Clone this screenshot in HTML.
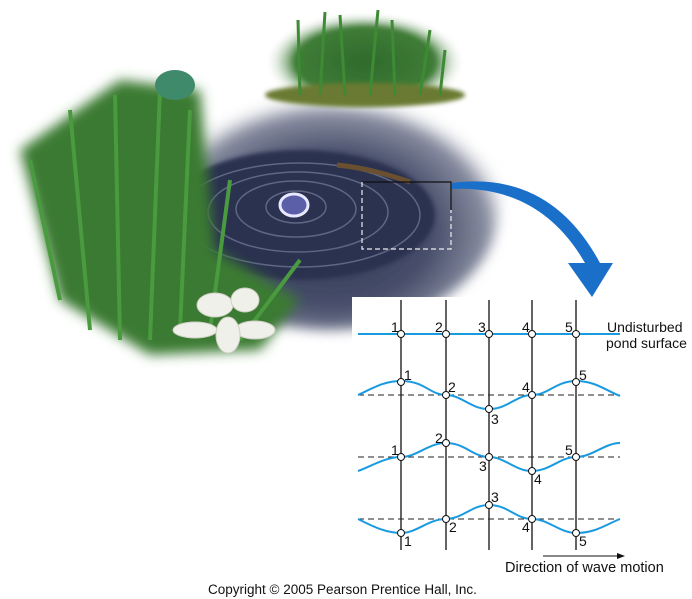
<!DOCTYPE html>
<html><head><meta charset="utf-8"><style>
html,body{margin:0;padding:0;background:#fff;width:692px;height:599px;overflow:hidden}
svg{display:block}
text{font-family:"Liberation Sans",Arial,sans-serif}
</style></head><body>
<svg width="692" height="599" viewBox="0 0 692 599" xmlns="http://www.w3.org/2000/svg">
<defs>
<radialGradient id="pond" cx="0.5" cy="0.6" r="0.55">
<stop offset="0" stop-color="#2c3350"/><stop offset="0.55" stop-color="#474e6a"/><stop offset="0.85" stop-color="#8a8fa2"/><stop offset="1" stop-color="#fff" stop-opacity="0"/>
</radialGradient>
<radialGradient id="grass" cx="0.5" cy="0.5" r="0.5">
<stop offset="0" stop-color="#2f6a2c"/><stop offset="0.7" stop-color="#3f7d37"/><stop offset="1" stop-color="#fff" stop-opacity="0"/>
</radialGradient>
<filter id="blur"><feGaussianBlur stdDeviation="6"/></filter>
<filter id="blur2"><feGaussianBlur stdDeviation="2"/></filter>
</defs>
<ellipse cx="330" cy="205" rx="170" ry="125" fill="url(#pond)" filter="url(#blur)"/>
<ellipse cx="300" cy="215" rx="135" ry="65" fill="#2a3150" filter="url(#blur2)"/>
<g fill="none" stroke="#6c7490" stroke-width="1.5" opacity="0.8">
<ellipse cx="296" cy="207" rx="30" ry="16"/>
<ellipse cx="296" cy="209" rx="60" ry="28"/>
<ellipse cx="298" cy="212" rx="90" ry="40"/>
<ellipse cx="300" cy="215" rx="120" ry="52"/>
</g>
<ellipse cx="294" cy="205" rx="14" ry="11" fill="#5a5fa8" stroke="#e8e8ff" stroke-width="3"/>
<path d="M337 165 Q370 168 410 182" stroke="#6a5030" stroke-width="5" fill="none"/>
<ellipse cx="365" cy="62" rx="100" ry="50" fill="url(#grass)" filter="url(#blur2)"/>
<ellipse cx="365" cy="95" rx="100" ry="12" fill="#6b7a30" filter="url(#blur2)"/>
<g stroke="#3f8a35" stroke-width="3">
<line x1="300" y1="95" x2="298" y2="20"/><line x1="320" y1="95" x2="325" y2="12"/><line x1="345" y1="95" x2="340" y2="15"/><line x1="370" y1="95" x2="378" y2="10"/><line x1="395" y1="95" x2="392" y2="20"/><line x1="420" y1="95" x2="430" y2="30"/><line x1="440" y1="95" x2="445" y2="50"/>
</g>
<path d="M20 150 L120 80 L200 90 L215 250 L300 300 L260 350 L150 355 L60 300 Z" fill="#3a7a33" filter="url(#blur)"/>
<g stroke="#4a9a40" stroke-width="4">
<line x1="90" y1="330" x2="70" y2="110"/><line x1="120" y1="340" x2="115" y2="95"/><line x1="150" y1="340" x2="160" y2="90"/><line x1="180" y1="330" x2="190" y2="110"/><line x1="60" y1="300" x2="30" y2="160"/><line x1="210" y1="330" x2="230" y2="180"/><line x1="240" y1="340" x2="300" y2="260"/>
</g>
<ellipse cx="175" cy="85" rx="20" ry="15" fill="#3f8a6a"/>
<g fill="#f0f0ea" stroke="#cfcfc5">
<ellipse cx="215" cy="305" rx="18" ry="12"/><ellipse cx="245" cy="300" rx="14" ry="12"/><ellipse cx="195" cy="330" rx="22" ry="8"/><ellipse cx="255" cy="330" rx="20" ry="9"/><ellipse cx="228" cy="335" rx="12" ry="18"/>
</g>
<path d="M362 182 H451 V210" fill="none" stroke="#111" stroke-width="1.2"/>
<path d="M362 182 V249 H451 V210" fill="none" stroke="#eee" stroke-width="1.2" stroke-dasharray="5,3"/>
<path d="M452 189 Q540 185 585 263 L600 263 Q550 170 452 183 Z" fill="#1a6fc9"/>
<path d="M568 263 L613 263 L592 297 Z" fill="#1a6fc9"/>
<rect x="352" y="297" width="340" height="290" fill="#fff"/>
<g stroke="#111" stroke-width="1.3">
<line x1="401" y1="300" x2="401" y2="550"/><line x1="446" y1="300" x2="446" y2="550"/><line x1="489" y1="300" x2="489" y2="550"/><line x1="532" y1="300" x2="532" y2="550"/><line x1="576" y1="300" x2="576" y2="550"/>
</g>
<g stroke="#222" stroke-width="1" stroke-dasharray="6,4">
<line x1="358" y1="395" x2="620" y2="395"/><line x1="358" y1="457" x2="620" y2="457"/><line x1="358" y1="519" x2="620" y2="519"/>
</g>
<line x1="358" y1="334" x2="620" y2="334" stroke="#1a9ae0" stroke-width="2"/>
<g fill="none" stroke="#1a9ae0" stroke-width="2">
<path d="M358 395 C375 387 385 381 401 381 C425 381 430 395 446 395 C462 395 470 409 489 409 C508 409 516 395 532 395 C548 395 556 381 576 381 C595 381 605 390 620 396"/>
<path d="M358 471 C370 467 385 457 401 457 C417 457 428 443 446 443 C465 443 473 457 489 457 C505 457 515 471 532 471 C550 471 560 457 576 457 C592 457 605 443 620 443"/>
<path d="M358 519 C370 525 385 533 401 533 C417 533 428 519 446 519 C462 519 472 505 489 505 C508 505 516 519 532 519 C548 519 560 533 576 533 C595 533 605 525 620 519"/>
</g>
<g fill="#fff" stroke="#111" stroke-width="1">
<circle cx="401" cy="334" r="3.5"/><circle cx="446" cy="334" r="3.5"/><circle cx="489" cy="334" r="3.5"/><circle cx="532" cy="334" r="3.5"/><circle cx="576" cy="334" r="3.5"/>
<circle cx="401" cy="382" r="3.5"/><circle cx="446" cy="395" r="3.5"/><circle cx="489" cy="409" r="3.5"/><circle cx="532" cy="395" r="3.5"/><circle cx="576" cy="382" r="3.5"/>
<circle cx="401" cy="457" r="3.5"/><circle cx="446" cy="443" r="3.5"/><circle cx="489" cy="457" r="3.5"/><circle cx="532" cy="471" r="3.5"/><circle cx="576" cy="457" r="3.5"/>
<circle cx="401" cy="533" r="3.5"/><circle cx="446" cy="519" r="3.5"/><circle cx="489" cy="505" r="3.5"/><circle cx="532" cy="519" r="3.5"/><circle cx="576" cy="533" r="3.5"/>
</g>
<g fill="#111" font-size="14">
<text x="391" y="332">1</text><text x="435" y="332">2</text><text x="478" y="332">3</text><text x="522" y="332">4</text><text x="565" y="332">5</text>
<text x="404" y="380">1</text><text x="448" y="392">2</text><text x="491" y="424">3</text><text x="522" y="392">4</text><text x="579" y="380">5</text>
<text x="391" y="455">1</text><text x="435" y="443">2</text><text x="479" y="471">3</text><text x="534" y="484">4</text><text x="565" y="455">5</text>
<text x="404" y="546">1</text><text x="449" y="532">2</text><text x="491" y="502">3</text><text x="522" y="532">4</text><text x="579" y="546">5</text>
<text x="607" y="332">Undisturbed</text><text x="606" y="348">pond surface</text>
<text x="505" y="572" font-size="14.5">Direction of wave motion</text>
<text x="208" y="594" font-size="13.5">Copyright © 2005 Pearson Prentice Hall, Inc.</text>
</g>
<line x1="543" y1="556" x2="620" y2="556" stroke="#111" stroke-width="1"/>
<path d="M625 556 L617 553 L617 559 Z" fill="#111"/>
</svg>
</body></html>
